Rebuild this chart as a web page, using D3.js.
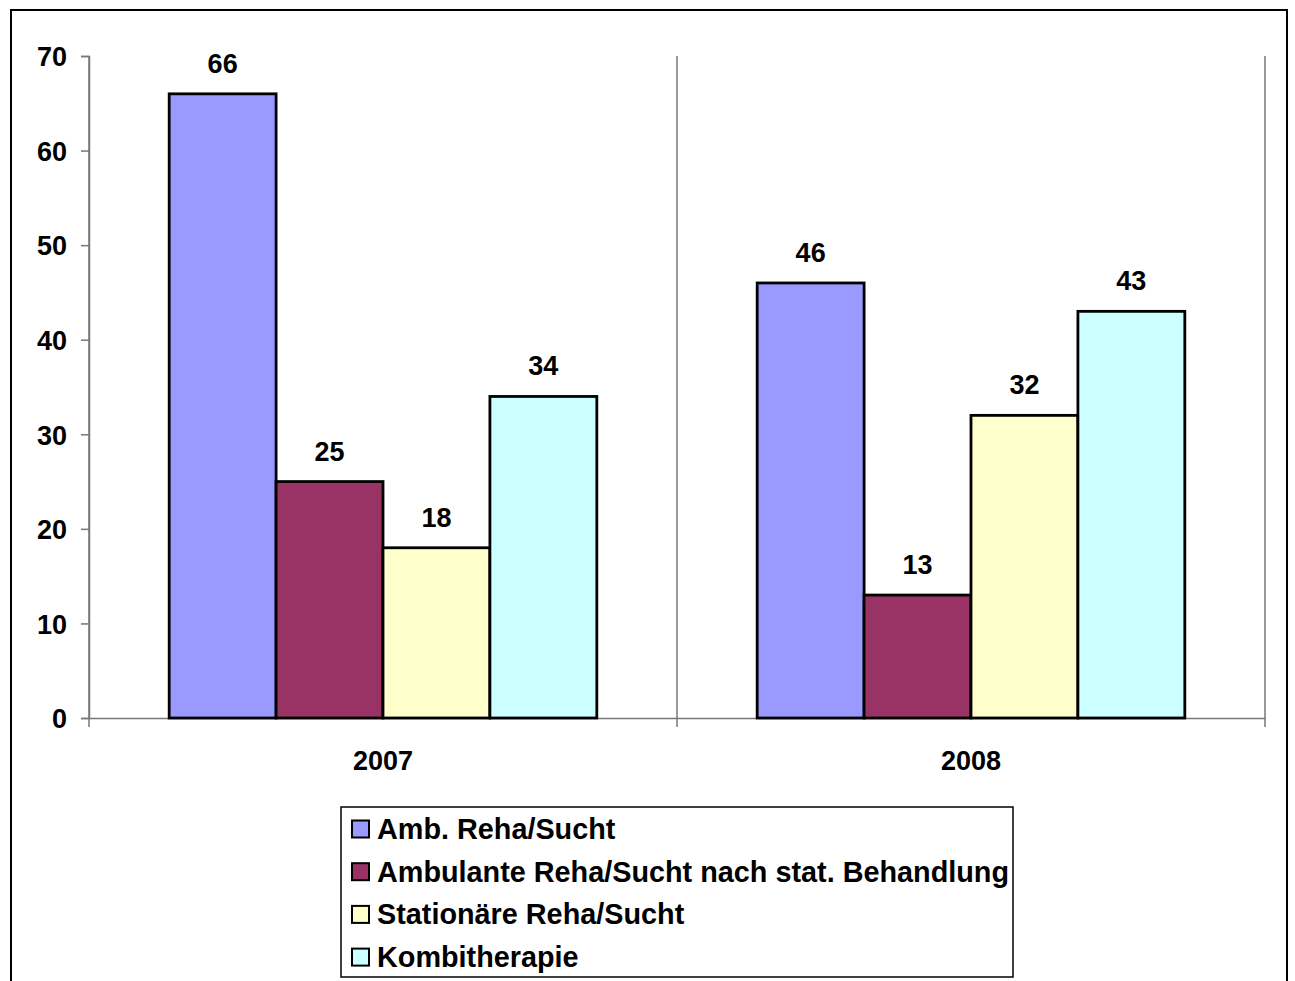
<!DOCTYPE html>
<html>
<head>
<meta charset="utf-8">
<script src="https://cdn.jsdelivr.net/npm/d3@7"></script>
<style>
  body { margin: 0; background: #fff; }
  text { font-family: "Liberation Sans", Arial, sans-serif; font-weight: bold; fill: #000; }
</style>
</head>
<body>
<div id="plot"></div>
<script>
// data
categories = ["2007", "2008"]
seriesNames = ["Amb. Reha/Sucht", "Ambulante Reha/Sucht nach stat. Behandlung", "Stationäre Reha/Sucht", "Kombitherapie"]
ambReha = [66, 46]
ambNachStat = [25, 13]
stationaer = [18, 32]
kombi = [34, 43]
yTicks = [0, 10, 20, 30, 40, 50, 60, 70]
colors = ["#9999FF", "#993366", "#FFFFCC", "#CCFFFF"]

seriesValues = [ambReha, ambNachStat, stationaer, kombi]

W = 1295, H = 981

svg = d3.select("#plot").append("svg").attr("width", W).attr("height", H).attr("viewBox", [0, 0, W, H])

// outer frame
svg.append("rect").attr("x", 11).attr("y", 10).attr("width", 1276).attr("height", 980)
  .attr("fill", "none").attr("stroke", "#000").attr("stroke-width", 2)

x0 = d3.scaleBand().domain(categories).range([89, 1265]).padding(0)
x1 = d3.scaleBand().domain(d3.range(seriesNames.length)).range([0, x0.bandwidth()]).paddingInner(0).paddingOuter(0.75)
y = d3.scaleLinear().domain([0, 70]).range([718, 56])

// vertical lines at category boundaries
bounds = categories.map(c => x0(c)).concat([x0.range()[1]])
svg.append("g").selectAll("line").data(bounds).join("line")
  .attr("x1", d => d).attr("x2", d => d).attr("y1", y(70)).attr("y2", y(0) + 9)
  .attr("stroke", "#777").attr("stroke-width", 1.5)

// y axis
yAxis = svg.append("g").attr("transform", "translate(89,0)")
  .call(d3.axisLeft(y).tickValues(yTicks).tickSize(8).tickPadding(14))
yAxis.select(".domain").attr("stroke", "#777").attr("stroke-width", 1.5)
yAxis.selectAll(".tick line").attr("stroke", "#777").attr("stroke-width", 1.5)
yAxis.selectAll(".tick text").attr("font-size", 27).attr("font-family", null).attr("dy", "0.36em")

// x axis line
xAxis = svg.append("g").attr("transform", `translate(0,${y(0)})`)
  .call(d3.axisBottom(x0).tickSize(0).tickPadding(0).tickFormat(""))
xAxis.select(".domain").attr("stroke", "#777").attr("stroke-width", 1.5)

svg.append("g").selectAll("text").data(categories).join("text")
  .attr("x", d => x0(d) + x0.bandwidth() / 2)
  .attr("y", 770)
  .attr("text-anchor", "middle")
  .attr("font-size", 27)
  .text(d => d)

// bars
groups = svg.append("g").selectAll("g").data(categories).join("g")
  .attr("transform", d => `translate(${x0(d)},0)`)

groups.selectAll("rect")
  .data((c, ci) => seriesValues.map((vals, si) => ({si: si, v: vals[ci]})))
  .join("rect")
  .attr("x", d => x1(d.si))
  .attr("y", d => y(d.v))
  .attr("width", x1.bandwidth())
  .attr("height", d => y(0) - y(d.v))
  .attr("fill", d => colors[d.si])
  .attr("stroke", "#000")
  .attr("stroke-width", 2.8)

groups.selectAll("text")
  .data((c, ci) => seriesValues.map((vals, si) => ({si: si, v: vals[ci]})))
  .join("text")
  .attr("x", d => x1(d.si) + x1.bandwidth() / 2)
  .attr("y", d => y(d.v) - 21)
  .attr("text-anchor", "middle")
  .attr("font-size", 27)
  .text(d => d.v)

// legend
legend = svg.append("g")
legend.append("rect").attr("x", 341).attr("y", 807).attr("width", 672).attr("height", 170)
  .attr("fill", "#fff").attr("stroke", "#000").attr("stroke-width", 1.5)

items = legend.selectAll("g.item").data(seriesNames).join("g").attr("class", "item")
  .attr("transform", (d, i) => `translate(0,${828.5 + i * 42.7})`)
items.append("rect").attr("x", 352).attr("y", -8).attr("width", 17).attr("height", 17)
  .attr("fill", (d, i) => colors[i]).attr("stroke", "#000").attr("stroke-width", 2)
items.append("text").attr("x", 377).attr("y", 10.5).attr("font-size", 28.8).text(d => d)
</script>
</body>
</html>
